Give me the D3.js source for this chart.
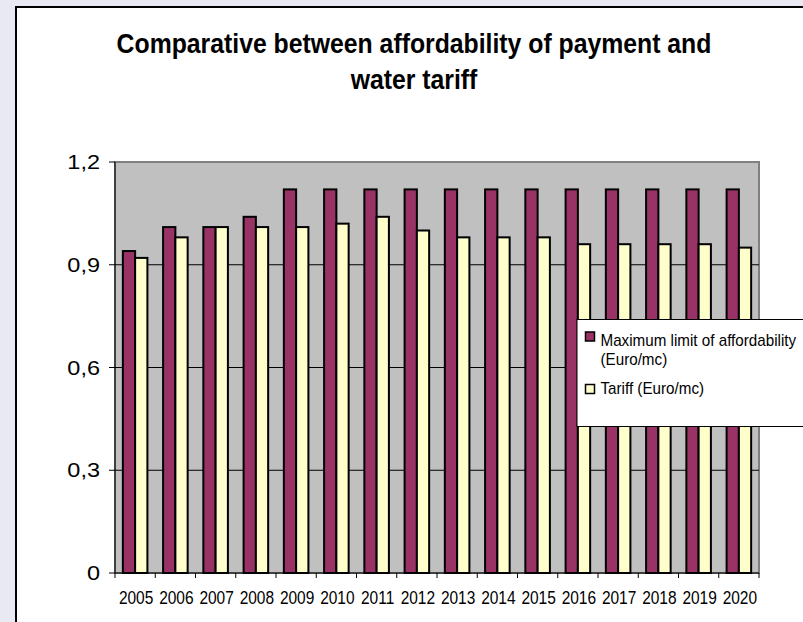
<!DOCTYPE html>
<html><head><meta charset="utf-8">
<script src="https://cdn.jsdelivr.net/npm/d3@7"></script>
<style>html,body{margin:0;padding:0;background:#fff;overflow:hidden}svg{display:block}text{font-family:"Liberation Sans",Arial,sans-serif}</style>
</head><body><div id="chart"></div>
<script>
const years = ["2005","2006","2007","2008","2009","2010","2011","2012","2013","2014","2015","2016","2017","2018","2019","2020"];
const maxLimit = [0.94,1.01,1.01,1.04,1.12,1.12,1.12,1.12,1.12,1.12,1.12,1.12,1.12,1.12,1.12,1.12];
const tariff   = [0.92,0.98,1.01,1.01,1.01,1.02,1.04,1.00,0.98,0.98,0.98,0.96,0.96,0.96,0.96,0.95];
const yTicks = [0,0.3,0.6,0.9,1.2];
const yTickLabels = ["0","0,3","0,6","0,9","1,2"];
const seriesNames = ["Maximum limit of affordability","Tariff (Euro/mc)"];
const titleLines = ["Comparative between affordability of payment and","water tariff"];

const W=803,H=622;
const svg=d3.select("#chart").append("svg").attr("width",W).attr("height",H);
svg.append("rect").attr("width",W).attr("height",H).attr("fill","#E9E9F3");
svg.append("rect").attr("x",16).attr("y",7).attr("width",W).attr("height",H).attr("fill","#fff").attr("stroke","#000").attr("stroke-width",2);

const pl=115,pr=759,pt=162,pb=573;
const x=d3.scaleBand().domain(years).range([pl,pr]);
const y=d3.scaleLinear().domain([0,1.2]).range([pb,pt]);

svg.append("rect").attr("x",pl).attr("y",pt).attr("width",pr-pl).attr("height",pb-pt).attr("fill","#C0C0C0").attr("stroke","#808080").attr("stroke-width",2);

// gridlines
svg.append("g").selectAll("line").data(yTicks.filter(d=>d>0&&d<1.2)).join("line")
  .attr("x1",pl).attr("x2",pr).attr("y1",d=>y(d)).attr("y2",d=>y(d)).attr("stroke","#000").attr("stroke-width",1);

// bars
const bw=x.bandwidth()*0.305;
const off=(x.bandwidth()-2*bw)/2;
const series=[{vals:maxLimit,color:"#993366"},{vals:tariff,color:"#FFFFCC"}];
series.forEach((s,si)=>{
  svg.append("g").selectAll("rect").data(years).join("rect")
    .attr("x",(d)=>x(d)+off+si*bw).attr("width",bw)
    .attr("y",(d,i)=>y(s.vals[i])).attr("height",(d,i)=>y(0)-y(s.vals[i]))
    .attr("fill",s.color).attr("stroke","#000").attr("stroke-width",2);
});

// y axis
const ya=svg.append("g");
ya.append("line").attr("x1",pl).attr("x2",pl).attr("y1",pt).attr("y2",pb).attr("stroke","#000");
ya.selectAll("line.t").data(yTicks).join("line").attr("class","t")
  .attr("x1",pl-6).attr("x2",pl).attr("y1",d=>y(d)).attr("y2",d=>y(d)).attr("stroke","#000");
ya.selectAll("text").data(yTicks).join("text")
  .attr("transform",d=>`translate(100,${y(d)+7}) scale(1.12,1)`)
  .attr("text-anchor","end").attr("font-size",21).text((d,i)=>yTickLabels[i]);

// x axis
const xa=svg.append("g");
xa.append("line").attr("x1",pl).attr("x2",pr).attr("y1",pb).attr("y2",pb).attr("stroke","#000");
const bounds=years.map(d=>x(d)).concat([pr]);
xa.selectAll("line.t").data(bounds).join("line").attr("class","t")
  .attr("x1",d=>d).attr("x2",d=>d).attr("y1",pb).attr("y2",pb+5).attr("stroke","#000");
xa.selectAll("text").data(years).join("text")
  .attr("transform",d=>`translate(${x(d)+x.bandwidth()/2+1},604) scale(1,1.2)`)
  .attr("text-anchor","middle").attr("font-size",15.5).text(d=>d);

// title
svg.append("g").selectAll("text").data(titleLines).join("text")
  .attr("transform",(d,i)=>`translate(414,${53+i*36}) scale(1,1.1)`)
  .attr("text-anchor","middle").attr("font-size",24.8).attr("font-weight","bold").text(d=>d);

// legend
const lg=svg.append("g");
lg.append("rect").attr("x",577).attr("y",319.5).attr("width",240).attr("height",107).attr("fill","#fff").attr("stroke","#000").attr("stroke-width",1);
lg.append("rect").attr("x",585.5).attr("y",332).attr("width",9).attr("height",9).attr("fill",series[0].color).attr("stroke","#000").attr("stroke-width",1.5);
lg.append("rect").attr("x",585.5).attr("y",384.5).attr("width",9).attr("height",9).attr("fill",series[1].color).attr("stroke","#000").attr("stroke-width",1.5);
const legendLines=[[seriesNames[0],346],["(Euro/mc)",364.5],[seriesNames[1],394]];
lg.selectAll("text").data(legendLines).join("text")
  .attr("transform",d=>`translate(600.5,${d[1]}) scale(1,1.05)`)
  .attr("font-size",15.2).text(d=>d[0]);
</script></body></html>
